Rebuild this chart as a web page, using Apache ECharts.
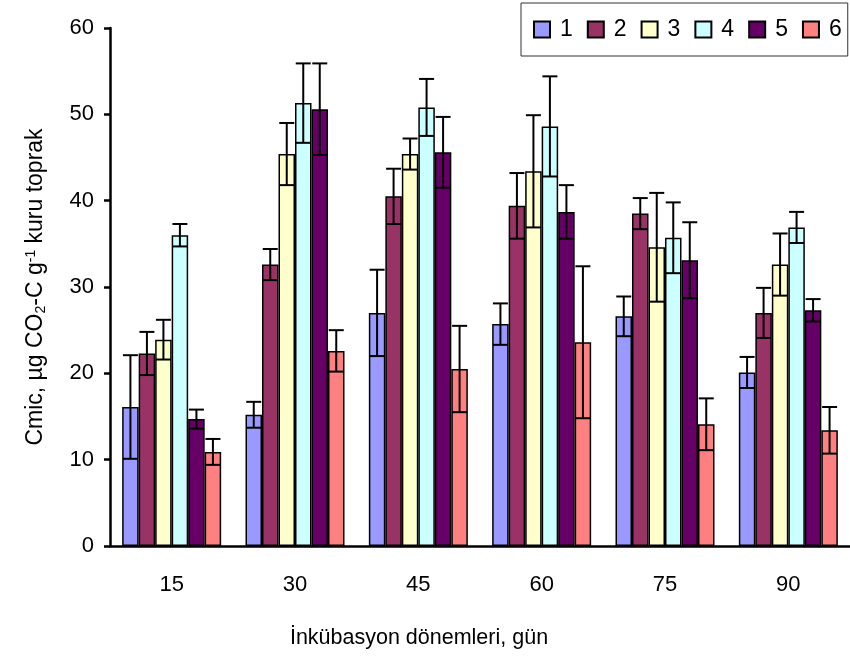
<!DOCTYPE html>
<html>
<head>
<meta charset="utf-8">
<script src="https://cdn.jsdelivr.net/npm/echarts@6/dist/echarts.min.js"></script>
<style>
  html, body { margin: 0; padding: 0; background: #fff; }
</style>
</head>
<body>
<div id="main" style="width: 850px;height:659px;"></div>
<script type="text/javascript">
    // veriler: inkübasyon günleri ve 6 uygulama (ortalama + hata)
    var days = ['15', '30', '45', '60', '75', '90'];
    var names = ['1', '2', '3', '4', '5', '6'];
    var colors = ['#9999FF', '#993366', '#FFFFCC', '#CCFFFF', '#660066', '#FF8080'];

    var v1 = [16.1, 15.2, 27.0, 25.7, 26.6, 20.1];
    var v2 = [22.3, 32.6, 40.5, 39.4, 38.5, 27.0];
    var v3 = [23.9, 45.4, 45.4, 43.4, 34.6, 32.6];
    var v4 = [36.0, 51.3, 50.8, 48.6, 35.7, 36.9];
    var v5 = [14.7, 50.6, 45.6, 38.7, 33.1, 27.3];
    var v6 = [10.9, 22.6, 20.5, 23.6, 14.1, 13.4];

    var e1 = [6.0, 1.5, 5.0, 2.4, 2.3, 1.8];
    var e2 = [2.5, 1.8, 3.2, 3.8, 1.8, 2.9];
    var e3 = [2.3, 3.6, 1.8, 6.5, 6.3, 3.6];
    var e4 = [1.3, 4.6, 3.3, 5.8, 4.1, 1.8];
    var e5 = [1.1, 5.3, 4.1, 3.1, 4.4, 1.3];
    var e6 = [1.5, 2.4, 5.0, 8.8, 3.0, 2.7];

    var yTicks = [0, 10, 20, 30, 40, 50, 60];

    var vals = [v1, v2, v3, v4, v5, v6];
    var errs = [e1, e2, e3, e4, e5, e6];

    var BAR_W = 16.5;
    var CAP = 15;
    var FONT = '"Liberation Sans Narrow", "Liberation Sans", Arial, sans-serif';

    var myChart = echarts.init(document.getElementById('main'));

    var series = [];
    // çubuklar
    vals.forEach(function (v, i) {
        series.push({
            name: names[i],
            type: 'bar',
            data: v,
            barWidth: BAR_W,
            barGap: '0%',
            itemStyle: { color: colors[i], borderColor: '#000', borderWidth: 1.5 },
            z: 2
        });
    });
    // hata çubukları
    errs.forEach(function (e, i) {
        series.push({
            type: 'custom',
            data: e.map(function (x, k) { return [k, vals[i][k], x]; }),
            z: 10,
            silent: true,
            renderItem: function (params, api) {
                var c = api.value(0), v = api.value(1), er = api.value(2);
                var top = api.coord([c, v + er]);
                var bot = api.coord([c, v - er]);
                var x = top[0] + (i - 2.5) * BAR_W;
                var st = { stroke: '#000', lineWidth: 2 };
                return {
                    type: 'group',
                    children: [
                        { type: 'line', shape: { x1: x, y1: top[1], x2: x, y2: bot[1] }, style: st },
                        { type: 'line', shape: { x1: x - CAP / 2, y1: top[1], x2: x + CAP / 2, y2: top[1] }, style: st },
                        { type: 'line', shape: { x1: x - CAP / 2, y1: bot[1], x2: x + CAP / 2, y2: bot[1] }, style: st }
                    ]
                };
            }
        });
    });

    var option = {
        animation: false,
        backgroundColor: '#fff',
        textStyle: { fontFamily: FONT },
        title: [{
            text: 'İnkübasyon dönemleri, gün',
            left: 414,
            top: 622,
            textAlign: 'center',
            textStyle: { fontFamily: FONT, fontSize: 21.5, fontWeight: 'normal', color: '#000' }
        }],
        legend: {
            data: names,
            orient: 'horizontal',
            left: 521,
            top: 3,
            padding: [15, 6, 15, 12],
            itemWidth: 16,
            itemHeight: 16,
            itemGap: 14,
            icon: 'rect',
            borderColor: '#333',
            borderWidth: 1,
            textStyle: { fontFamily: FONT, fontSize: 23, color: '#000', padding: [0, 0, 0, 5] }
        },
        grid: { left: 110, top: 28, width: 750, bottom: 113 },
        xAxis: {
            type: 'category',
            data: days,
            axisLine: { lineStyle: { color: '#000', width: 2.5 } },
            axisTick: { length: 8, lineStyle: { color: '#000', width: 2.5 } },
            axisLabel: { margin: 28, fontSize: 22, color: '#000', fontFamily: FONT }
        },
        yAxis: {
            type: 'value',
            min: yTicks[0],
            max: yTicks[yTicks.length - 1],
            interval: 10,
            name: '{a|Cmic, µg CO}{s|2}{a|-C g}{p|-1}{a| kuru toprak}',
            nameLocation: 'middle',
            nameGap: 62,
            nameRotate: 90,
            nameTextStyle: {
                rich: {
                    a: { fontFamily: FONT, fontSize: 23, color: '#000' },
                    s: { fontFamily: FONT, fontSize: 14, color: '#000', verticalAlign: 'bottom', padding: [8, 0, 0, 0] },
                    p: { fontFamily: FONT, fontSize: 14, color: '#000', verticalAlign: 'top', padding: [0, 0, 10, 0] }
                }
            },
            axisLine: { show: true, lineStyle: { color: '#000', width: 2.5 } },
            axisTick: { show: true, length: 6, lineStyle: { color: '#000', width: 2.5 } },
            axisLabel: { margin: 16, fontSize: 22, color: '#000', fontFamily: FONT },
            splitLine: { show: false }
        },
        series: series
    };

    myChart.setOption(option);
</script>
</body>
</html>
